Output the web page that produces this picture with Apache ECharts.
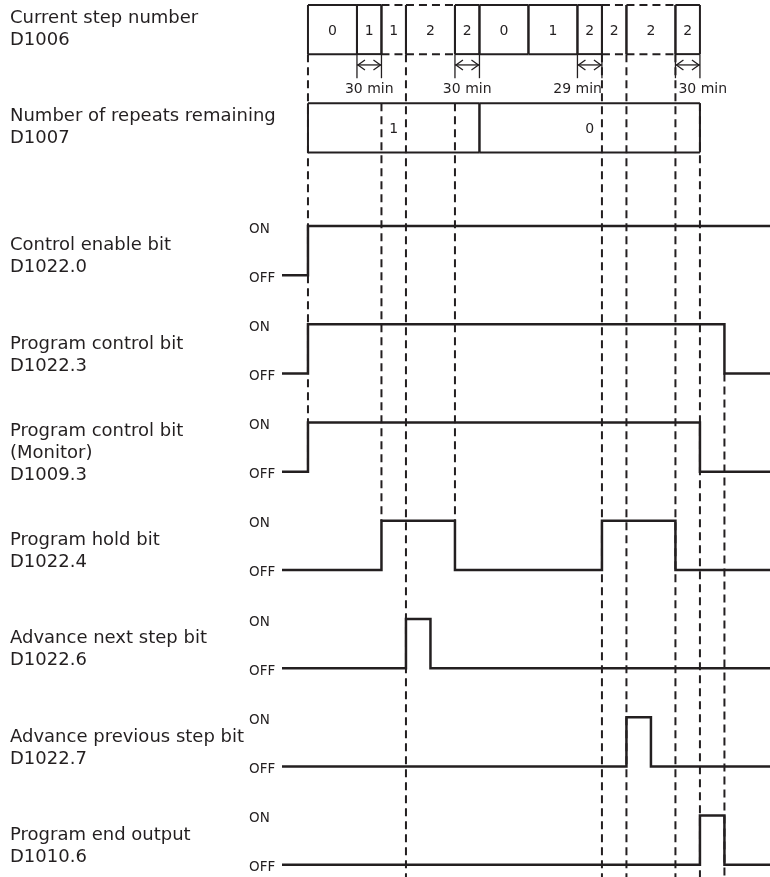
<!DOCTYPE html>
<html><head><meta charset="utf-8">
<script src="https://cdn.jsdelivr.net/npm/echarts@6/dist/echarts.min.js"></script>
<style>html,body{margin:0;padding:0;background:#fff}#c{width:770px;height:877px}</style>
</head><body><div id="c"></div>
<script>
// ---- Data (time in slots; one slot = width of a 30 min step) ----
// Current step number D1006
const stepStart = [0, 2, 3, 4, 6, 7, 9, 11, 12, 13, 15];
const stepEnd   = [2, 3, 4, 6, 7, 9, 11, 12, 13, 15, 16];
const stepValue = ['0', '1', '1', '2', '2', '0', '1', '2', '2', '2', '2'];
const stepSolid = [1, 1, 0, 0, 1, 1, 1, 1, 0, 0, 1];

// Number of repeats remaining D1007
const repeatStart = [0, 7];
const repeatEnd   = [7, 16];
const repeatValue = ['1', '0'];

// Step timers shown under the step row
const timerStart = [2, 6, 11, 15];
const timerEnd   = [3, 7, 12, 16];
const timerText  = ['30 min', '30 min', '29 min', '30 min'];

// Bit signals: names and toggle times (all start OFF)
const signalNames = [
  'Control enable bit\nD1022.0',
  'Program control bit\nD1022.3',
  'Program control bit\n(Monitor)\nD1009.3',
  'Program hold bit\nD1022.4',
  'Advance next step bit\nD1022.6',
  'Advance previous step bit\nD1022.7',
  'Program end output\nD1010.6'
];
const signalToggles = [
  [0],
  [0, 17],
  [0, 16],
  [3, 6, 12, 15],
  [4, 5],
  [13, 14],
  [16, 17]
];

// Dashed guide lines: time, from, to (row references)
const guideTime = [0, 3, 4, 6, 12, 13, 15, 16, 17];
const guideFrom = ['stepBot', 'repTop', 'stepBot', 'repTop', 'stepBot', 'stepBot', 'stepBot', 'repTop', 'row1off'];
const guideTo   = ['row2off', 'row3on', 'end', 'row3on', 'end', 'end', 'end', 'end', 'end'];

// ---- Layout helpers ----
const INK = '#231f20';
const FONT = '"DejaVu Sans", Verdana, sans-serif';
const X_MIN = -1.06, X_MAX = 18.86;
const Y_MAX = 17.75;
const STEP_TOP = 0, STEP_BOT = 1, REP_TOP = 2, REP_BOT = 3;
const onLevel = r => 4.5 + 2 * r;
const offLevel = r => 5.5 + 2 * r;
function level(ref) {
  if (ref === 'stepBot') return STEP_BOT;
  if (ref === 'repTop') return REP_TOP;
  if (ref === 'end') return Y_MAX;
  const m = ref.match(/row(\d+)(on|off)/);
  const r = +m[1];
  return m[2] === 'on' ? onLevel(r) : offLevel(r);
}

const series = [];

// Guides
series.push({
  type: 'custom', silent: true, z: 1,
  data: guideTime.map((t, i) => [t, level(guideFrom[i]), level(guideTo[i])]),
  renderItem(params, api) {
    const a = api.coord([api.value(0), api.value(1)]);
    const b = api.coord([api.value(0), api.value(2)]);
    return { type: 'line', shape: { x1: a[0], y1: a[1], x2: b[0], y2: b[1] },
      style: { stroke: INK, lineWidth: 2, lineDash: [8, 5] } };
  }
});

// Box rows (step number + repeats)
function boxSeries(starts, ends, values, solids, top, bot) {
  return {
    type: 'custom', silent: true, z: 3,
    data: starts.map((s, i) => [s, ends[i], solids ? solids[i] : 1]),
    renderItem(params, api) {
      const p0 = api.coord([api.value(0), top]);
      const p1 = api.coord([api.value(1), bot]);
      const solid = api.value(2) === 1;
      const hs = { stroke: INK, lineWidth: 2, lineDash: solid ? null : [8, 5] };
      const vs = { stroke: INK, lineWidth: 2 };
      return { type: 'group', children: [
        { type: 'line', shape: { x1: p0[0], y1: p0[1], x2: p1[0], y2: p0[1] }, style: hs },
        { type: 'line', shape: { x1: p0[0], y1: p1[1], x2: p1[0], y2: p1[1] }, style: hs },
        { type: 'line', shape: { x1: p0[0], y1: p0[1], x2: p0[0], y2: p1[1] }, style: vs },
        { type: 'line', shape: { x1: p1[0], y1: p0[1], x2: p1[0], y2: p1[1] }, style: vs },
        { type: 'text', style: { text: values[params.dataIndex], x: (p0[0] + p1[0]) / 2,
          y: (p0[1] + p1[1]) / 2 + 1.5, align: 'center', verticalAlign: 'middle',
          font: '14px ' + FONT, fill: INK } }
      ] };
    }
  };
}
series.push(boxSeries(stepStart, stepEnd, stepValue, stepSolid, STEP_TOP, STEP_BOT));
// Repeats box: outer segments all solid, internal guide crossings drawn by guides
series.push({
  type: 'custom', silent: true, z: 3,
  data: repeatStart.map((s, i) => [s, repeatEnd[i]]),
  renderItem(params, api) {
    const p0 = api.coord([api.value(0), REP_TOP]);
    const p1 = api.coord([api.value(1), REP_BOT]);
    const st = { stroke: INK, lineWidth: 2 };
    return { type: 'group', children: [
      { type: 'line', shape: { x1: p0[0], y1: p0[1], x2: p1[0], y2: p0[1] }, style: st },
      { type: 'line', shape: { x1: p0[0], y1: p1[1], x2: p1[0], y2: p1[1] }, style: st },
      { type: 'line', shape: { x1: p0[0], y1: p0[1], x2: p0[0], y2: p1[1] }, style: st },
      { type: 'line', shape: { x1: p1[0], y1: p0[1], x2: p1[0], y2: p1[1] }, style: st },
      { type: 'text', style: { text: repeatValue[params.dataIndex], x: (p0[0] + p1[0]) / 2,
        y: (p0[1] + p1[1]) / 2 + 1.5, align: 'center', verticalAlign: 'middle',
        font: '14px ' + FONT, fill: INK } }
    ] };
  }
});

// Timer arrows
const timerAlign = ['center', 'center', 'right', 'left'];
series.push({
  type: 'custom', silent: true, z: 3,
  data: timerStart.map((s, i) => [s, timerEnd[i]]),
  renderItem(params, api) {
    const a = api.coord([api.value(0), STEP_BOT]);
    const b = api.coord([api.value(1), 1.49]);
    const ya = api.coord([0, 1.22])[1];
    const yt = api.coord([0, 1.72])[1];
    const st = { stroke: INK, lineWidth: 1.3, fill: null };
    const al = timerAlign[params.dataIndex];
    const tx = al === 'center' ? (a[0] + b[0]) / 2 : (al === 'right' ? b[0] : a[0] + 3);
    return { type: 'group', children: [
      { type: 'line', shape: { x1: a[0], y1: a[1], x2: a[0], y2: b[1] }, style: st },
      { type: 'line', shape: { x1: b[0], y1: a[1], x2: b[0], y2: b[1] }, style: st },
      { type: 'line', shape: { x1: a[0], y1: ya, x2: b[0], y2: ya }, style: st },
      { type: 'polyline', shape: { points: [[a[0] + 8, ya - 5], [a[0] + 1, ya], [a[0] + 8, ya + 5]] }, style: st },
      { type: 'polyline', shape: { points: [[b[0] - 8, ya - 5], [b[0] - 1, ya], [b[0] - 8, ya + 5]] }, style: st },
      { type: 'text', style: { text: timerText[params.dataIndex], x: tx, y: yt, align: al,
        verticalAlign: 'middle', font: '14px ' + FONT, fill: INK } }
    ] };
  }
});

// Signal waveforms
signalToggles.forEach((toggles, r) => {
  const pts = [[X_MIN, offLevel(r)]];
  let on = false;
  toggles.forEach(t => {
    pts.push([t, on ? onLevel(r) : offLevel(r)]);
    on = !on;
    pts.push([t, on ? onLevel(r) : offLevel(r)]);
  });
  pts.push([X_MAX, on ? onLevel(r) : offLevel(r)]);
  series.push({
    type: 'line', data: pts, symbol: 'none', silent: true, z: 4,
    lineStyle: { color: INK, width: 2.5, join: 'miter' }, animation: false
  });
});

// Left labels (row names) and ON/OFF labels
const topNames = ['Current step number\nD1006', 'Number of repeats remaining\nD1007'];
series.push({
  type: 'custom', silent: true, z: 5,
  data: topNames.map((n, i) => [0, i === 0 ? (STEP_TOP + STEP_BOT) / 2 : (REP_TOP + REP_BOT) / 2]),
  renderItem(params, api) {
    const y = api.coord([0, api.value(1)])[1];
    return { type: 'text', style: { text: topNames[params.dataIndex], x: 10, y: y,
      align: 'left', verticalAlign: 'middle', lineHeight: 22, font: '18px ' + FONT, fill: INK } };
  }
});
series.push({
  type: 'custom', silent: true, z: 5,
  data: signalNames.map((n, r) => [0, (onLevel(r) + offLevel(r)) / 2, onLevel(r), offLevel(r)]),
  renderItem(params, api) {
    const y = api.coord([0, api.value(1)])[1];
    const yon = api.coord([0, api.value(2)])[1];
    const yoff = api.coord([0, api.value(3)])[1];
    const f = '13.5px ' + FONT;
    return { type: 'group', children: [
      { type: 'text', style: { text: signalNames[params.dataIndex], x: 10, y: y + 6,
        align: 'left', verticalAlign: 'middle', lineHeight: 22, font: '18px ' + FONT, fill: INK } },
      { type: 'text', style: { text: 'ON', x: 249, y: yon + 3, align: 'left', verticalAlign: 'middle', font: f, fill: INK } },
      { type: 'text', style: { text: 'OFF', x: 249, y: yoff + 3, align: 'left', verticalAlign: 'middle', font: f, fill: INK } }
    ] };
  }
});

const chart = echarts.init(document.getElementById('c'), null, { renderer: 'canvas' });
chart.setOption({
  animation: false,
  backgroundColor: '#ffffff',
  grid: { left: 282, right: 0, top: 5, bottom: 0, containLabel: false },
  xAxis: { type: 'value', min: X_MIN, max: X_MAX, show: false },
  yAxis: { type: 'value', min: 0, max: Y_MAX, inverse: true, show: false },
  series
});
</script></body></html>
